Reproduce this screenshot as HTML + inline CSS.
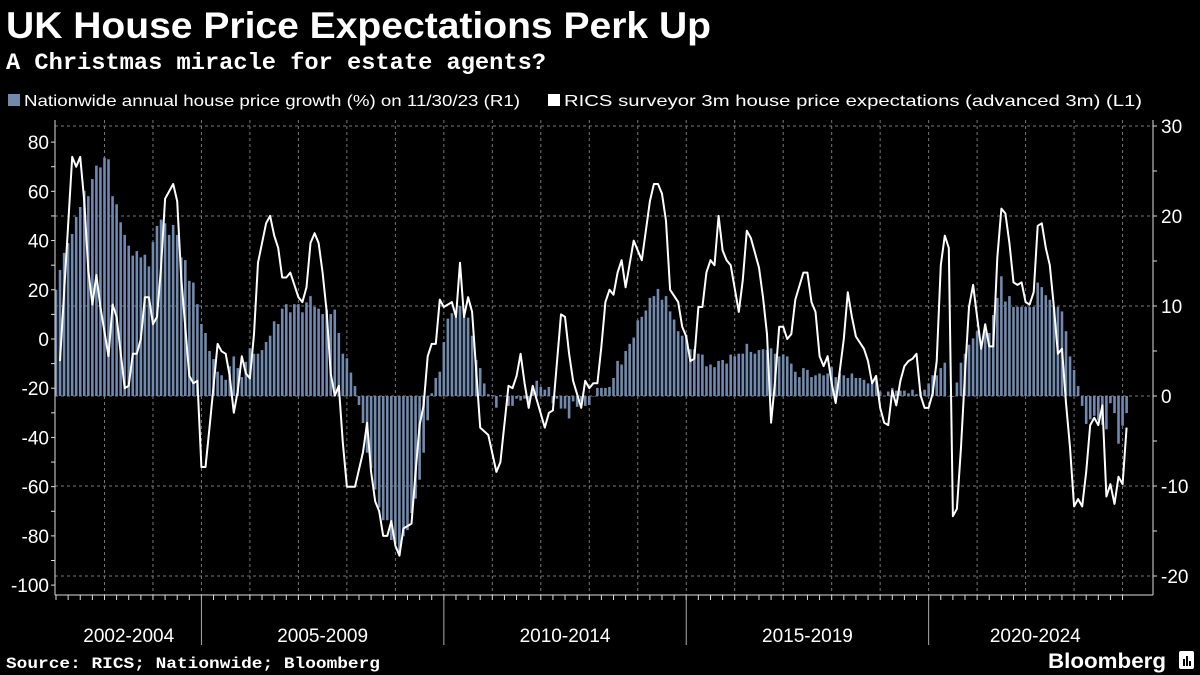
<!DOCTYPE html>
<html><head><meta charset="utf-8">
<style>
html,body{margin:0;padding:0;background:#000;width:1200px;height:675px;overflow:hidden}
svg{display:block}
text{font-family:"Liberation Sans",sans-serif;fill:#fff}
.mono{font-family:"Liberation Mono",monospace;font-weight:bold}
</style></head>
<body>
<svg id="chart" width="1200" height="675" viewBox="0 0 1200 675" xmlns="http://www.w3.org/2000/svg">
<rect x="0" y="0" width="1200" height="675" fill="#000"/>
<text x="6" y="38" font-size="37" font-weight="bold" textLength="705" lengthAdjust="spacingAndGlyphs">UK House Price Expectations Perk Up</text>
<text class="mono" x="6" y="69" font-size="23" textLength="540" lengthAdjust="spacingAndGlyphs">A Christmas miracle for estate agents?</text>
<g>
<g>
<rect x="8" y="94" width="12" height="12" fill="#7089ad"/>
<text x="24" y="106" font-size="16" textLength="496" lengthAdjust="spacingAndGlyphs">Nationwide annual house price growth (%) on 11/30/23 (R1)</text>
</g>
<g>
<rect x="548" y="94" width="12" height="12" fill="#fff"/>
<text x="564" y="106" font-size="16" textLength="578" lengthAdjust="spacingAndGlyphs">RICS surveyor 3m house price expectations (advanced 3m) (L1)</text>
</g>
</g>
<g id="grid"></g>
<g id="bars"></g>
<g id="line"></g>
<g id="axes"></g>
<text class="mono" x="6" y="668" font-size="16" textLength="374" lengthAdjust="spacingAndGlyphs">Source: RICS; Nationwide; Bloomberg</text>
<text x="1048" y="668" font-size="21" font-weight="bold" textLength="118" lengthAdjust="spacingAndGlyphs">Bloomberg</text>
<g><rect x="1179" y="651" width="15" height="18" rx="2" fill="#fff"/><rect x="1183" y="659" width="2" height="7" fill="#000"/><rect x="1186" y="656" width="2" height="10" fill="#000"/><rect x="1189" y="661" width="2" height="5" fill="#000"/></g>
</svg>
<script>
// RICS line (left axis), months since Jan 2002
const lineMonths=[1,4,5,6,7,8,9,10,11,13,14,15,17,18,19,20,21,22,23,24,25,26,27,29,30,31,33,34,35,36,37,38,39,40,41,42,43,44,45,46,47,48,49,50,52,53,54,55,56,57,58,60,61,62,63,64,65,66,67,68,69,70,71,72,74,76,77,78,79,80,81,82,83,84,85,86,88,89,90,91,92,93,94,95,96,98,99,100,101,102,103,105,107,109,110,112,113,114,115,116,117,118,121,122,123,125,126,127,128,130,131,132,133,134,135,136,137,138,139,140,141,143,145,147,148,149,150,151,152,154,155,156,157,158,159,160,161,162,163,164,165,166,167,169,170,171,172,174,175,176,177,178,179,180,181,182,183,185,186,187,188,189,190,191,192,193,195,196,197,198,200,201,202,203,204,205,206,207,208,209,210,211,212,213,214,215,216,217,218,219,220,221,222,223,224,225,226,227,228,229,230,231,232,233,234,235,236,237,238,239,240,241,242,243,244,245,246,247,248,249,250,251,252,253,254,255,256,257,258,259,260,261,262,263,264,265];
const lineValues=[-9,74,70,74,56,28,14,26,13,-7,14,9,-20,-19,-6,-6,0,17,17,6,9,29,57,63,56,25,-15,-18,-17,-52,-52,-36,-19,-2,-5,-6,-15,-30,-21,-7,-14,-16,2,31,47,50,42,37,25,25,27,17,15,21,39,43,39,27,11,-14,-23,-19,-42,-60,-60,-46,-34,-54,-66,-70,-80,-80,-74,-84,-88,-77,-75,-54,-35,-27,-7,-2,-2,16,13,15,9,31,9,17,11,-36,-39,-54,-50,-19,-20,-15,-6,-18,-28,-19,-36,-30,-29,10,9,-6,-17,-28,-17,-20,-18,-18,-3,15,20,18,27,32,21,40,32,56,63,63,59,48,20,15,5,1,-9,-8,13,13,27,32,30,50,36,32,30,11,24,44,41,29,17,2,-34,-17,5,5,0,2,16,27,27,15,11,-7,-11,-7,-18,-26,0,19,9,1,-4,-9,-18,-15,-28,-34,-35,-21,-27,-17,-11,-9,-8,-6,-23,-28,-28,-22,-9,30,42,37,-72,-69,-44,-14,13,22,9,-4,6,-3,-3,33,53,51,39,23,22,23,15,14,19,46,47,37,30,13,-6,-4,-26,-44,-68,-65,-68,-54,-35,-32,-35,-27,-64,-59,-67,-56,-59,-36];
// Nationwide bars (right axis), one per month from Jan 2002
const barValues=[11.8,14,15.9,17,18,19.9,21,22.8,22.2,24.1,25.6,25.4,26.5,26.3,22.2,21.3,19.3,17.9,16.7,15.6,16.1,15.4,15.7,14.4,17.1,18.9,19.6,19.2,17.9,19,17.9,15.4,15.1,12.8,12.6,10.2,8,7,5,4.1,2.7,2.3,1.8,3.3,4.4,3.1,2.1,3.8,5.3,4.7,4.7,5.1,6,6.7,8.3,8,9.7,10.2,9.3,10.2,10.2,9.3,10.4,11.1,9.9,9.7,9.1,9.6,9.1,9.6,7,4.7,4.2,2.6,1.1,-1,-3,-6.3,-8,-10.4,-12.4,-13.8,-13.8,-16,-16.4,-17.7,-15.6,-14.9,-13,-11.4,-9.3,-6.3,-2.7,0.3,2,2.7,6,8.6,9.2,8.8,10,8.8,8.7,6.7,4,3.1,1.4,0.2,0.1,-1.3,0.1,0,-1.1,-1.1,-0.3,-0.5,-0.3,-0.8,0.5,1.7,1,0.7,1,-0.8,-0.3,-1.4,-1.4,-2.5,-0.6,-1.2,-0.6,-1.1,-1,0,0.9,0.9,0.9,1,2,3.9,3.5,5,5.8,6.5,8.4,8.8,9.5,10.9,11.1,11.9,10.7,11.1,9.4,8.5,7.2,6.7,6.8,5.2,5.2,4.7,4.6,3.3,3.5,3.2,3.9,4,3.6,4.6,4.4,4.7,4.7,5.8,4.9,4.7,5.1,5.2,5.1,5.3,4.7,4.4,4.6,4.4,3.6,2.7,2.1,3.1,2.9,2.1,2.3,2.5,2.3,2.5,3.2,2.1,2.5,2.3,2,2.5,2,2,1.8,1.4,1.4,2,0.5,0,0.5,0.9,0.6,0.6,0.6,0.3,0.7,0.2,0.5,0.7,1.4,2.3,2.3,3.1,3.7,0,-0.1,1.5,3.7,4.7,5.7,6.4,7.2,5.7,7.2,7,9,10.9,13.3,10.5,11.1,9.9,9.9,9.9,9.9,9.9,9.9,12.6,12.1,11.2,10.7,9.9,9.9,9.4,7.2,4.4,2.9,1.1,-1.1,-3.1,-2.6,-2.2,-2.7,-3.2,-3.7,-0.8,-1.9,-5.3,-3.3,-1.9];
const leftTicks=[80,60,40,20,0,-20,-40,-60,-80,-100];
const rightTicks=[30,20,10,0,-10,-20];
const periodLabels=["2002-2004","2005-2009","2010-2014","2015-2019","2020-2024"];
const periodStartYears=[2002,2005,2010,2015,2020];
const periodEndYears=[2005,2010,2015,2020,2024.4];

const NS="http://www.w3.org/2000/svg";
const X0=56, MW=4.04, PL=55, PR=1153, PT=120, PB=595;
const xM=m=>X0+MW*m;
const xYear=y=>X0+MW*12*(y-2002);
const yL=v=>339-2.4611*v;
const yR=v=>396-9.0*v;
function mk(tag,attrs,parent){const e=document.createElementNS(NS,tag);for(const k in attrs)e.setAttribute(k,attrs[k]);parent.appendChild(e);return e;}
const grid=document.getElementById('grid'),bars=document.getElementById('bars'),line=document.getElementById('line'),axes=document.getElementById('axes');

rightTicks.forEach(t=>{const g=mk('line',{x1:PL,x2:PR,y1:yR(t),y2:yR(t),stroke:'#777','stroke-width':1,'stroke-dasharray':'3,3'},grid);

});
for(let y=2003;y<=2024;y++){const g=mk('line',{x1:xYear(y),x2:xYear(y),y1:PT,y2:PB,stroke:'#777','stroke-width':1,'stroke-dasharray':'3,3'},grid);

}

barValues.forEach((v,i)=>{const x=xM(i),y0=yR(0),y1=yR(v);
const r=mk('rect',{x:x-1.3,y:Math.min(y0,y1),width:2.6,height:Math.max(0.5,Math.abs(y1-y0)),fill:'#7089ad'},bars);

});

const pts=lineMonths.map((m,i)=>xM(m).toFixed(1)+','+yL(lineValues[i]).toFixed(1)).join(' ');
const pl=mk('polyline',{points:pts,fill:'none',stroke:'#fff','stroke-width':2,'stroke-linejoin':'round'},line);



// axes frame
mk('line',{x1:PL,x2:PL,y1:PT,y2:PB,stroke:'#ddd','stroke-width':1},axes);
mk('line',{x1:PR,x2:PR,y1:PT,y2:PB,stroke:'#ddd','stroke-width':1},axes);
mk('line',{x1:PL,x2:PR,y1:PB,y2:PB,stroke:'#ddd','stroke-width':1},axes);
for(let v=80;v>=-100;v-=10){mk('line',{x1:PL-4,x2:PL,y1:yL(v),y2:yL(v),stroke:'#ddd'},axes);}
leftTicks.forEach(t=>{const tx=mk('text',{x:PL-6,y:yL(t)+7,'font-size':19,'text-anchor':'end'},axes);tx.textContent=t;

});
for(let v=30;v>=-20;v-=5){mk('line',{x1:PR,x2:PR+4,y1:yR(v),y2:yR(v),stroke:'#ddd'},axes);}
rightTicks.forEach(t=>{const tx=mk('text',{x:PR+8,y:yR(t)+7,'font-size':19},axes);tx.textContent=t;

});
for(let m=0;m<=266;m+=3){mk('line',{x1:xM(m),x2:xM(m),y1:PB,y2:PB+5,stroke:'#ddd'},axes);}
periodLabels.forEach((lab,i)=>{const a=xYear(periodStartYears[i]),b=xYear(periodEndYears[i]);
if(i>0)mk('line',{x1:a,x2:a,y1:PB,y2:645,stroke:'#aaa'},axes);
const tx=mk('text',{x:(Math.max(a,PL)+Math.min(b,PR))/2,y:642,'font-size':19,'text-anchor':'middle'},axes);tx.textContent=lab;

});
</script>
</body></html>
